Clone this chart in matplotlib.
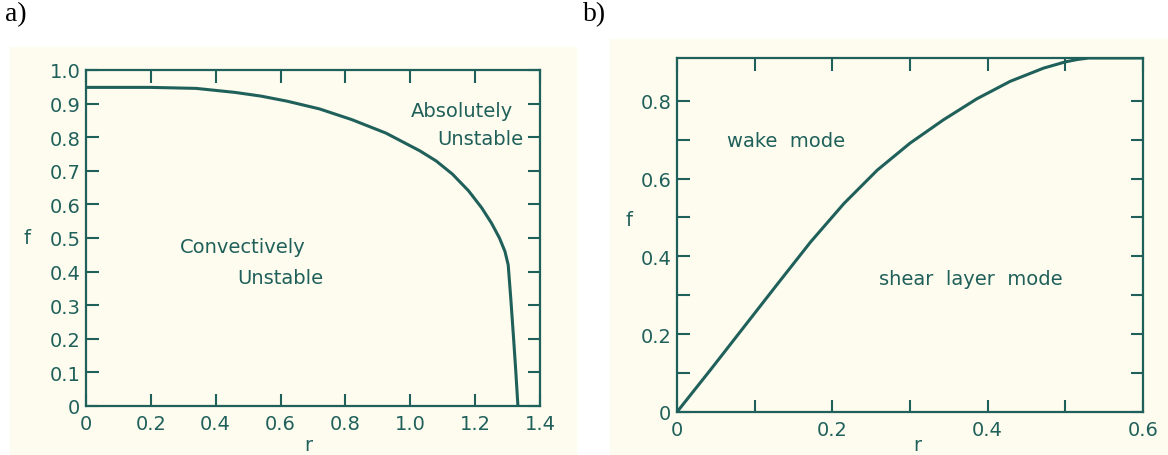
import matplotlib.pyplot as plt
from matplotlib.patches import Rectangle

# panel a: boundary between convective and absolute instability
r_a = [0.0, 0.2, 0.34, 0.46, 0.54, 0.62, 0.72, 0.82, 0.925, 1.03, 1.08, 1.13,
       1.18, 1.22, 1.25, 1.275, 1.292, 1.302, 1.31, 1.318, 1.325, 1.332]
f_a = [0.948, 0.948, 0.945, 0.933, 0.922, 0.907, 0.884, 0.852, 0.812, 0.759, 0.729, 0.690,
       0.640, 0.590, 0.545, 0.500, 0.460, 0.420, 0.320, 0.210, 0.110, 0.0]

# panel b: wake mode / shear layer mode boundary
r_b = [0.0, 0.043, 0.086, 0.129, 0.172, 0.215, 0.258, 0.300, 0.343, 0.386,
       0.429, 0.472, 0.500, 0.515, 0.530, 0.6]
f_b = [0.0, 0.108, 0.218, 0.328, 0.437, 0.536, 0.622, 0.691, 0.751, 0.805,
       0.850, 0.884, 0.900, 0.906, 0.910, 0.910]

xticks_a = [0, 0.2, 0.4, 0.6, 0.8, 1.0, 1.2, 1.4]
xlabels_a = ["0", "0.2", "0.4", "0.6", "0.8", "1.0", "1.2", "1.4"]
yticks_a = [0, 0.1, 0.2, 0.3, 0.4, 0.5, 0.6, 0.7, 0.8, 0.9, 1.0]
ylabels_a = ["0", "0.1", "0.2", "0.3", "0.4", "0.5", "0.6", "0.7", "0.8", "0.9", "1.0"]

xticks_b = [0, 0.1, 0.2, 0.3, 0.4, 0.5, 0.6]
xlabels_b = ["0", "", "0.2", "", "0.4", "", "0.6"]
yticks_b = [0, 0.1, 0.2, 0.3, 0.4, 0.5, 0.6, 0.7, 0.8]
ylabels_b = ["0", "", "0.2", "", "0.4", "", "0.6", "", "0.8"]

ink = "#20605a"
paper = "#fdfcef"

plt.rcParams['font.family'] = ['DejaVu Sans']

fig = plt.figure(figsize=(11.68, 4.56), dpi=100)

# cream scanned-page backgrounds
fig.patches.append(Rectangle((10 / 1168, 0), 566 / 1168, 1 - 48 / 456,
                             transform=fig.transFigure, color=paper, zorder=-5))
fig.patches.append(Rectangle((610 / 1168, 0), 558 / 1168, 1 - 40 / 456,
                             transform=fig.transFigure, color=paper, zorder=-5))

ax_a = fig.add_axes([0.0736, 0.1075, 0.3887, 0.737])
ax_b = fig.add_axes([0.5796, 0.0943, 0.399, 0.7763])


def style(ax, xt, xl, yt, yl):
    ax.set_facecolor("none")
    ax.set_xticks(xt)
    ax.set_xticklabels(xl)
    ax.set_yticks(yt)
    ax.set_yticklabels(yl)
    ax.tick_params(direction="in", length=9, width=1.5, color=ink,
                   labelcolor=ink, labelsize=14, top=True, right=True)
    ax.tick_params(axis="y", pad=4)
    ax.tick_params(axis="x", pad=6)
    for s in ax.spines.values():
        s.set_color(ink)
        s.set_linewidth(1.6)


# (a)
ax_a.plot(r_a, f_a, color=ink, lw=2.2)
ax_a.set_xlim(0, 1.4)
ax_a.set_ylim(0, 1.0)
style(ax_a, xticks_a, xlabels_a, yticks_a, ylabels_a)
ax_a.set_xlabel("r", color=ink, fontsize=14)
ax_a.xaxis.set_label_coords(0.489, -0.085)
ax_a.set_ylabel("f", color=ink, fontsize=14, rotation=0, va="center")
ax_a.yaxis.set_label_coords(-0.13, 0.5)
ax_a.text(1.158, 0.88, "Absolutely", color=ink, fontsize=14, ha="center", va="center")
ax_a.text(1.215, 0.797, "Unstable", color=ink, fontsize=14, ha="center", va="center")
ax_a.text(0.485, 0.476, "Convectively", color=ink, fontsize=14, ha="center", va="center")
ax_a.text(0.60, 0.382, "Unstable", color=ink, fontsize=14, ha="center", va="center")

# (b)
ax_b.plot(r_b, f_b, color=ink, lw=2.2)
ax_b.set_xlim(0, 0.6)
ax_b.set_ylim(0, 0.91)
style(ax_b, xticks_b, xlabels_b, yticks_b, ylabels_b)
ax_b.set_xlabel("r", color=ink, fontsize=14)
ax_b.xaxis.set_label_coords(0.515, -0.065)
ax_b.set_ylabel("f", color=ink, fontsize=14, rotation=0, va="center")
ax_b.yaxis.set_label_coords(-0.103, 0.544)
ax_b.text(0.14, 0.697, "wake  mode", color=ink, fontsize=14, ha="center", va="center")
ax_b.text(0.378, 0.344, "shear  layer  mode", color=ink, fontsize=14, ha="center", va="center")

fig.text(5 / 1168, 1 - 2 / 456, "a)", family="Liberation Serif", fontsize=20,
         ha="left", va="top", color="black")
fig.text(583 / 1168, 1 - 2 / 456, "b)", family="Liberation Serif", fontsize=20,
         ha="left", va="top", color="black")

fig.savefig("out.png", dpi=100)
